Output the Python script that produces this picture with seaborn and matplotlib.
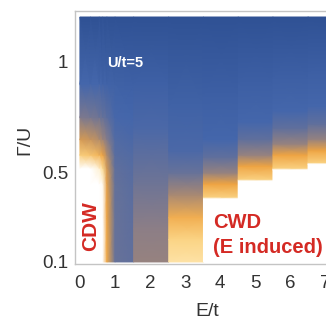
import numpy as np
import matplotlib
matplotlib.use("Agg")
import matplotlib.pyplot as plt
import seaborn as sns

# Order parameter scale: 0 = disordered (blue), 1 = fully ordered (white)
# CDW corner (smooth in both E and Gamma)
CDW_E = [0.0, 0.3, 0.55, 0.65, 0.77, 1.0, 1.53]
CDW_G = [0.1, 0.3, 0.45, 0.52, 0.58, 0.65, 0.75, 0.9, 1.2]
CDW_V = [
	[1.00, 1.00, 1.00, 1.00, 0.62, 0.30, 0.28],
	[1.00, 1.00, 1.00, 1.00, 0.60, 0.30, 0.27],
	[1.00, 1.00, 1.00, 0.97, 0.58, 0.29, 0.26],
	[1.00, 1.00, 0.92, 0.82, 0.55, 0.28, 0.25],
	[0.75, 0.72, 0.66, 0.60, 0.48, 0.26, 0.24],
	[0.55, 0.52, 0.48, 0.44, 0.38, 0.24, 0.22],
	[0.36, 0.34, 0.32, 0.30, 0.27, 0.21, 0.20],
	[0.20, 0.20, 0.20, 0.19, 0.18, 0.17, 0.16],
	[0.04, 0.04, 0.04, 0.04, 0.04, 0.04, 0.04],
]

# Field induced columns E/t = 2..7 (column edges, then Gamma knots and values per column)
COL_EDGES = [1.53, 2.53, 3.52, 4.51, 5.5, 6.5, 8.2]
COL_G = [
	[0.1, 0.25, 0.45, 0.7, 0.9, 1.2],
	[0.1, 0.2, 0.3, 0.4, 0.5, 0.6, 0.8, 1.2],
	[0.1, 0.385, 0.392, 0.45, 0.5, 0.57, 0.65, 0.85, 1.2],
	[0.1, 0.465, 0.472, 0.53, 0.58, 0.65, 0.73, 0.9, 1.2],
	[0.1, 0.515, 0.522, 0.58, 0.63, 0.70, 0.78, 0.93, 1.2],
	[0.1, 0.54, 0.547, 0.60, 0.65, 0.72, 0.80, 0.95, 1.2],
]
COL_V = [
	[0.42, 0.40, 0.32, 0.22, 0.16, 0.04],
	[0.84, 0.78, 0.64, 0.46, 0.30, 0.22, 0.17, 0.04],
	[1.0, 1.0, 0.76, 0.60, 0.42, 0.28, 0.20, 0.15, 0.04],
	[1.0, 1.0, 0.76, 0.60, 0.42, 0.28, 0.20, 0.15, 0.04],
	[1.0, 1.0, 0.76, 0.60, 0.42, 0.28, 0.20, 0.15, 0.04],
	[1.0, 1.0, 0.76, 0.60, 0.42, 0.28, 0.20, 0.15, 0.04],
]

X_TICKS = [0, 1, 2, 3, 4, 5, 6, 7]
Y_TICKS = [0.1, 0.5, 1.0]
Y_TICKLABELS = ["0.1", "0.5", "1"]

RED = "#D42A24"
TEXT = "#333333"


def draw_phase_map(ax, cmap):
	""" Draws the smooth CDW corner and the stepped E-induced columns. """
	# CDW corner is a 2D grid with smooth shading
	ex, gy = np.meshgrid(CDW_E, CDW_G)
	ax.pcolormesh(ex, gy, np.array(CDW_V), cmap=cmap, vmin=0, vmax=1, shading="gouraud", zorder=1)
	# Each field column only varies along Gamma
	for i in range(len(COL_G)):
		ex, gy = np.meshgrid(COL_EDGES[i:i + 2], COL_G[i])
		vals = np.column_stack([COL_V[i], COL_V[i]])
		ax.pcolormesh(ex, gy, vals, cmap=cmap, vmin=0, vmax=1, shading="gouraud", zorder=1)


def main():
	sns.set_style("white")
	plt.rcParams["font.family"] = ["Liberation Sans", "DejaVu Sans"]
	cmap = sns.blend_palette(["#2A4C8E", "#4466AB", "#8C7E86", "#EEA443", "#FCD98C", "#FFFFFF"], as_cmap=True)

	fig = plt.figure(figsize=(3.26, 3.22), dpi=100)
	ax = fig.add_axes([75 / 326, (322 - 263.5) / 322, 285.7 / 326, 252.5 / 322])
	draw_phase_map(ax, cmap)

	ax.set_xlim(-0.14, 8.0)
	ax.set_ylim(0.093, 1.227)
	ax.set_xticks(X_TICKS)
	ax.set_yticks(Y_TICKS)
	ax.set_yticklabels(Y_TICKLABELS)
	ax.tick_params(direction="in", length=2, color="#CCCCCC", labelsize=13.5, labelcolor=TEXT)
	ax.tick_params(axis="x", pad=8)
	ax.tick_params(axis="y", pad=5)
	for s in ax.spines.values():
		s.set_color("#C4C4C4")
		s.set_linewidth(1.0)

	ax.set_xlabel("E/t", fontsize=14, color=TEXT)
	ax.set_ylabel("Γ/U", fontsize=14, color=TEXT)
	ax.xaxis.set_label_coords(0.462, -0.156)
	ax.yaxis.set_label_coords(-0.145, 0.489)

	# Annotations
	ax.text(0.77, 0.995, "U/t=5", color="white", fontsize=10.5, fontweight="bold", ha="left", va="center", zorder=3)
	ax.text(0.31, 0.261, "CDW", color=RED, fontsize=15, fontweight="bold", rotation=90, ha="center", va="center", zorder=3)
	ax.text(3.79, 0.275, "CWD", color=RED, fontsize=14.5, fontweight="bold", ha="left", va="center", zorder=3)
	ax.text(3.79, 0.167, "(E induced)", color=RED, fontsize=14.5, fontweight="bold", ha="left", va="center", zorder=3)

	fig.savefig("out.png", dpi=100)
	plt.close(fig)


if __name__ == "__main__":
	main()
